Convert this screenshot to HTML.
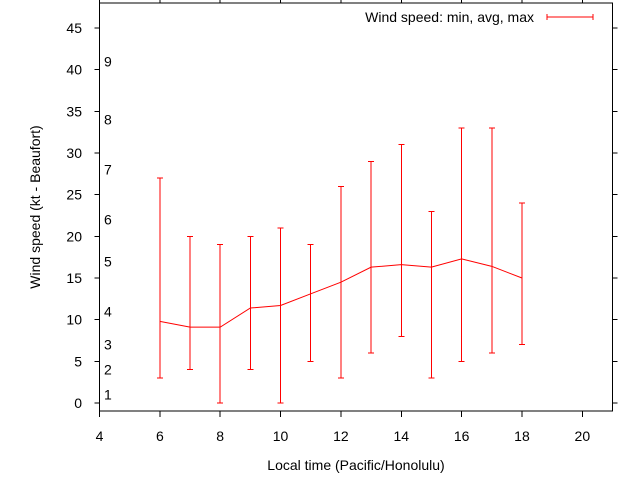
<!DOCTYPE html>
<html><head><meta charset="utf-8"><style>
body{margin:0;background:#fff;}
svg{display:block;font-family:"Liberation Sans",sans-serif;}
</style></head><body>
<svg id="chart" width="640" height="480" xmlns="http://www.w3.org/2000/svg"></svg>
<script>
const hours=[6,7,8,9,10,11,12,13,14,15,16,17,18];
const avgSpeed=[9.8,9.1,9.1,11.4,11.7,13.1,14.5,16.3,16.6,16.3,17.3,16.4,15.0];
const minSpeed=[3,4,0,4,0,5,3,6,8,3,5,6,7];
const maxSpeed=[27,20,19,20,21,19,26,29,31,23,33,33,24];
const xTicks=[4,6,8,10,12,14,16,18,20];
const yTicks=[0,5,10,15,20,25,30,35,40,45];
const beaufortLabels=["1","2","3","4","5","6","7","8","9"];
const beaufortKt=[1,4,7,11,17,22,28,34,41];

const L=99.5,R=612.5,T=3,B=411;
const xMin=4,xMax=21,yMin=-0.96,yMax=48;
const X=v=>L+(v-xMin)/(xMax-xMin)*(R-L);
const Y=v=>B-(v-yMin)/(yMax-yMin)*(B-T);
const svg=document.getElementById('chart');
const NS="http://www.w3.org/2000/svg";
function mk(tag,attrs,parent){const e=document.createElementNS(NS,tag);for(const k in attrs)e.setAttribute(k,attrs[k]);(parent||svg).appendChild(e);return e;}

const frame=mk('rect',{x:L,y:T,width:R-L,height:B-T,fill:'none',stroke:'#000','stroke-width':1,'shape-rendering':'crispEdges'});



xTicks.forEach(t=>{
  const x=X(t);
  const tk=mk('path',{d:`M${x},${B}v6M${x},${T}v-6`,stroke:'#000','shape-rendering':'crispEdges'});
  
  
  const lb=mk('text',{x:x,y:441,'text-anchor':'middle','font-size':14});
  lb.textContent=t;
  
  
});
yTicks.forEach(t=>{
  const y=Y(t);
  const tk=mk('path',{d:`M${L},${y}h-5M${R},${y}h5`,stroke:'#000','shape-rendering':'crispEdges'});
  
  
  const lb=mk('text',{x:82,y:y+5,'text-anchor':'end','font-size':14});
  lb.textContent=t;
  
  
});
beaufortLabels.forEach((b,i)=>{
  const lb=mk('text',{x:104,y:Y(beaufortKt[i])+5,'font-size':14});
  lb.textContent=b;
  
  
});

const xt=mk('text',{x:356,y:470,'text-anchor':'middle','font-size':14});
xt.textContent='Local time (Pacific/Honolulu)';


const yt=mk('text',{x:0,y:0,'text-anchor':'middle','font-size':14,transform:`translate(40,207) rotate(-90)`});
yt.textContent='Wind speed (kt - Beaufort)';



hours.forEach((h,i)=>{
  const x=X(h);
  const eb=mk('path',{d:`M${x},${Y(minSpeed[i])}V${Y(maxSpeed[i])}M${x-3},${Y(minSpeed[i])}h6M${x-3},${Y(maxSpeed[i])}h6`,stroke:'#f00',fill:'none','shape-rendering':'crispEdges'});
  
  
});
const line=mk('polyline',{points:hours.map((h,i)=>`${X(h)},${Y(avgSpeed[i])}`).join(' '),fill:'none',stroke:'#f00'});



const lg=mk('text',{x:534,y:22,'text-anchor':'end','font-size':14});
lg.textContent='Wind speed: min, avg, max';


const ls=mk('path',{d:'M547,17h46M547,14v6M593,14v6',stroke:'#f00','shape-rendering':'crispEdges'});


</script>
</body></html>
